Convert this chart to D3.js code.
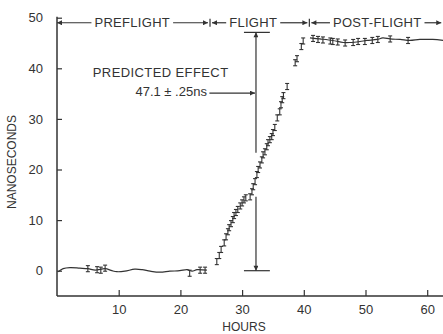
<!DOCTYPE html>
<html><head><meta charset="utf-8">
<script src="https://cdn.jsdelivr.net/npm/d3@7"></script>
<style>
html,body{margin:0;padding:0;background:#fff;}
svg{display:block;font-family:"Liberation Sans",Arial,sans-serif;}
</style></head>
<body><svg id="c" width="443" height="334"></svg>
<script>
// ---- data ----
const yTicks = [0, 10, 20, 30, 40, 50];
const xTicks = [10, 20, 30, 40, 50, 60];
const xLabel = "HOURS";
const yLabel = "NANOSECONDS";
const phaseLabels = ["PREFLIGHT", "FLIGHT", "POST-FLIGHT"];
const phaseBounds = [0, 24.8, 40.9, 62.6];

// preflight drift trace (hours, ns)
const preHours = [0.2, 1.0, 2.1, 3.7, 5.0, 6.2, 7.8, 8.9, 9.7, 11.0, 12.6, 13.8, 15.1, 16.7, 18.3, 19.9, 21.1, 21.9, 22.7, 24.3];
const preValues = [-0.2, 0.4, 0.6, 0.5, 0.4, 0.1, 0.4, 0.0, -0.2, -0.1, 0.3, 0.2, -0.1, -0.3, -0.1, 0.0, 0.2, -0.1, 0.2, 0.1];
// preflight measured points
const preErrHours = [5.0, 6.5, 7.1, 7.8, 21.5, 23.2, 24.0];
const preErrValues = [0.4, 0.2, 0.1, 0.5, -0.5, 0.1, 0.1];

// flight measured points
const flightHours = [25.9, 26.3, 26.6, 27.1, 27.4, 27.7, 27.9, 28.2, 28.5, 28.7, 29.0, 29.3, 29.7, 30.0, 30.3, 30.6, 31.3, 31.6, 31.8, 32.1, 32.4, 32.6, 32.9, 33.2, 33.4, 33.7, 34.0, 34.2, 34.5, 34.8, 35.0, 35.3, 35.7, 36.1, 36.3, 36.5, 36.7, 37.3, 38.6, 38.9, 39.6, 39.9];
const flightValues = [1.8, 3.0, 4.2, 5.5, 6.7, 7.7, 8.5, 9.3, 10.1, 10.9, 11.5, 12.1, 12.8, 13.4, 14.0, 14.4, 14.6, 15.6, 16.6, 17.6, 19.0, 20.0, 20.9, 21.9, 22.9, 23.5, 24.5, 25.3, 25.9, 26.5, 27.3, 28.3, 30.2, 31.4, 32.8, 33.8, 34.6, 36.4, 41.1, 41.9, 44.3, 45.4];

// post-flight trace (hours, ns)
const postHours = [41.0, 42.6, 44.7, 46.4, 47.5, 49.1, 50.2, 51.9, 52.8, 54.0, 55.6, 57.2, 58.8, 60.9, 62.6];
const postValues = [46.0, 45.8, 45.5, 45.1, 45.1, 45.3, 45.5, 45.7, 46.0, 45.8, 45.7, 45.5, 45.7, 45.7, 45.5];
// post-flight measured points
const postErrHours = [41.5, 42.3, 43.1, 44.3, 44.7, 45.5, 46.7, 48.0, 48.8, 49.9, 51.1, 52.0, 54.0, 56.9];
const postErrValues = [45.9, 45.7, 45.6, 45.4, 45.3, 45.2, 45.0, 45.1, 45.3, 45.3, 45.5, 45.7, 45.8, 45.5];

const errHalf = 0.6;
// predicted effect annotation
const predicted = 47.1;
const predictedHour = 32.25;
const predictedText = ["PREDICTED EFFECT", "47.1 ± .25ns"];

// ---- drawing ----
const ink = "#333";
const svg = d3.select("#c");
const x = d3.scaleLinear().domain([0, 63]).range([57, 57 + 63 * 6.17]);
const y = d3.scaleLinear().domain([-5, 50]).range([296, 17.7]);

// arrow marker
const defs = svg.append("defs");
defs.append("marker").attr("id", "ah").attr("viewBox", "0 0 10 10")
  .attr("refX", 10).attr("refY", 5).attr("markerWidth", 6).attr("markerHeight", 5)
  .attr("markerUnits", "userSpaceOnUse").attr("orient", "auto")
  .append("path").attr("d", "M0,0L10,5L0,10z").attr("fill", ink);

// axes
const yAxis = d3.axisLeft(y).tickValues(yTicks).tickSizeInner(-5).tickSizeOuter(0).tickPadding(14);
const gy = svg.append("g").attr("transform", `translate(${x(0)},0)`).call(yAxis);
const xAxis = d3.axisBottom(x).tickValues(xTicks).tickSizeInner(-6).tickSizeOuter(0).tickPadding(9);
const gx = svg.append("g").attr("transform", `translate(0,${y(-5)})`).call(xAxis);
[gx, gy].forEach(g => {
  g.select(".domain").remove();
  g.selectAll("line").attr("stroke", ink).attr("stroke-width", 1.2);
  g.selectAll("text").attr("fill", ink).attr("font-size", 13);
});
svg.append("line").attr("x1", x(0)).attr("x2", x(0)).attr("y1", y(50) - 1).attr("y2", y(-5))
  .attr("stroke", ink).attr("stroke-width", 1.5);
svg.append("line").attr("x1", x(0)).attr("x2", 443).attr("y1", y(-5)).attr("y2", y(-5))
  .attr("stroke", ink).attr("stroke-width", 1.5);

svg.append("text").attr("x", 244).attr("y", 331).attr("text-anchor", "middle")
  .attr("font-size", 12).attr("fill", ink).text(xLabel);
svg.append("text").attr("transform", "translate(16,162) rotate(-90)").attr("text-anchor", "middle")
  .attr("font-size", 12).attr("fill", ink).text(yLabel);

// phase header
const hy = y(49.0);
phaseLabels.forEach((lab, i) => {
  const a = phaseBounds[i], b = phaseBounds[i + 1];
  const cx = [12.2, 31.8, 51.9][i];
  const t = svg.append("text").attr("x", x(cx)).attr("y", hy + 4.5).attr("text-anchor", "middle")
    .attr("font-size", 13).attr("fill", ink).attr("letter-spacing", 0.3).text(lab);
  const w = t.node().getComputedTextLength();
  const xa = x(a) + (i === 0 ? 0 : 2), xb = x(b) - 2;
  svg.append("line").attr("x1", x(cx) - w / 2 - 3).attr("x2", xa).attr("y1", hy).attr("y2", hy)
    .attr("stroke", ink).attr("stroke-width", 1.2).attr("marker-end", "url(#ah)");
  svg.append("line").attr("x1", x(cx) + w / 2 + 3).attr("x2", xb).attr("y1", hy).attr("y2", hy)
    .attr("stroke", ink).attr("stroke-width", 1.2).attr("marker-end", "url(#ah)");
});
[phaseBounds[1], phaseBounds[2]].forEach(b => {
  svg.append("line").attr("x1", x(b)).attr("x2", x(b)).attr("y1", hy - 4).attr("y2", hy + 4)
    .attr("stroke", ink).attr("stroke-width", 1.2);
});

// traces
const line = d3.line().x(d => x(d[0])).y(d => y(d[1])).curve(d3.curveCatmullRom);
svg.append("path").datum(d3.zip(preHours, preValues)).attr("d", line)
  .attr("fill", "none").attr("stroke", ink).attr("stroke-width", 1.2);
svg.append("path").datum(d3.zip(postHours, postValues)).attr("d", line)
  .attr("fill", "none").attr("stroke", ink).attr("stroke-width", 1.2);

// error-bar points
function errBars(hs, vs) {
  const g = svg.append("g").attr("stroke", ink).attr("stroke-width", 1.1);
  d3.zip(hs, vs).forEach(([h, v]) => {
    const cx = x(h), t = y(v + errHalf), b = y(v - errHalf);
    g.append("line").attr("x1", cx).attr("x2", cx).attr("y1", t).attr("y2", b);
    g.append("line").attr("x1", cx - 2).attr("x2", cx + 2).attr("y1", t).attr("y2", t);
    g.append("line").attr("x1", cx - 2).attr("x2", cx + 2).attr("y1", b).attr("y2", b);
  });
}
errBars(preErrHours, preErrValues);
errBars(flightHours, flightValues);
errBars(postErrHours, postErrValues);

// predicted effect bar
const px = x(predictedHour);
const capL = x(30.3), capR = x(34.5);
svg.append("line").attr("x1", capL).attr("x2", capR).attr("y1", y(predicted)).attr("y2", y(predicted))
  .attr("stroke", ink).attr("stroke-width", 1.2);
svg.append("line").attr("x1", capL).attr("x2", capR).attr("y1", y(0)).attr("y2", y(0))
  .attr("stroke", ink).attr("stroke-width", 1.2);
svg.append("line").attr("x1", px).attr("x2", px).attr("y1", y(23.3)).attr("y2", y(predicted))
  .attr("stroke", ink).attr("stroke-width", 1.2).attr("marker-end", "url(#ah)");
svg.append("line").attr("x1", px).attr("x2", px).attr("y1", y(14.6)).attr("y2", y(0))
  .attr("stroke", ink).attr("stroke-width", 1.2).attr("marker-end", "url(#ah)");

svg.append("text").attr("x", x(16.8)).attr("y", y(38.3)).attr("text-anchor", "middle")
  .attr("font-size", 13).attr("fill", ink).attr("letter-spacing", 0.4).text(predictedText[0]);
const t2 = svg.append("text").attr("x", x(24.3)).attr("y", y(34.5)).attr("text-anchor", "end")
  .attr("font-size", 13).attr("fill", ink).text(predictedText[1]);
svg.append("line").attr("x1", x(24.7)).attr("x2", px - 1).attr("y1", y(35.1)).attr("y2", y(35.1))
  .attr("stroke", ink).attr("stroke-width", 1.2).attr("marker-end", "url(#ah)");
</script>
</body></html>
